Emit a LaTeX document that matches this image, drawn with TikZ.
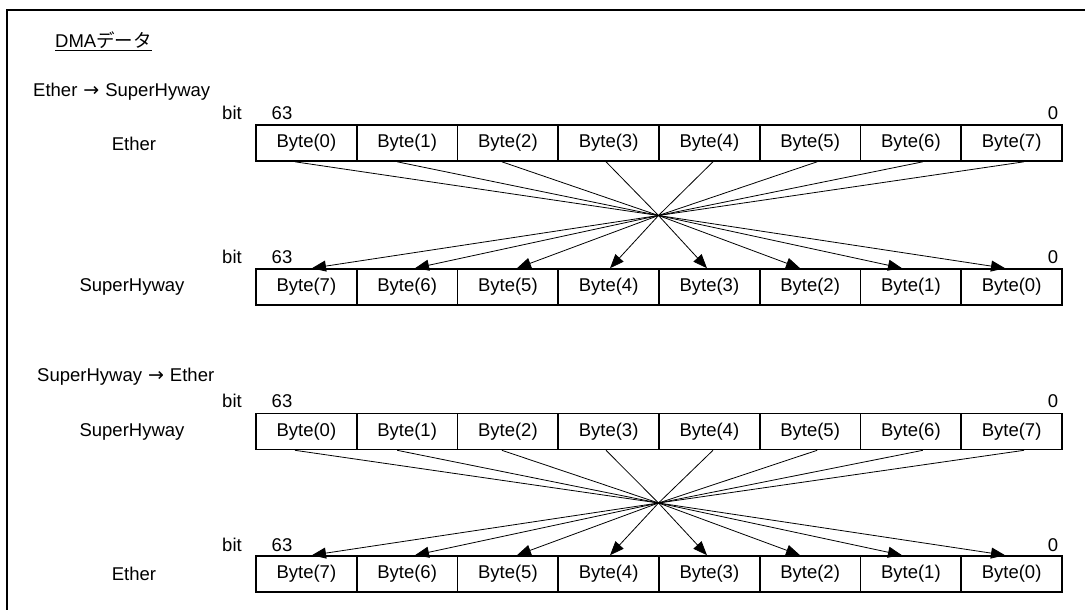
\documentclass[tikz,border=0pt]{standalone}
\usepackage{fontspec}
\setmainfont{Liberation Sans}
\newfontfamily\jpfont{Noto Sans CJK JP}
\newfontfamily\symfont{DejaVu Sans}
\usetikzlibrary{arrows.meta,calc}
\begin{document}
\begin{tikzpicture}[x=1pt,y=-1pt,font=\fontsize{18.5}{21}\selectfont,
  bytebox/.style={draw,line width=1.6pt,minimum width=100.75pt,minimum height=36pt,inner sep=0pt},
  lbl/.style={inner sep=0pt},
  conn/.style={line width=0.8pt},
  arr/.style={line width=0.8pt,-{Triangle[length=14pt,width=11pt]}},
  frameline/.style={line width=2pt}]
\useasboundingbox (0,0) rectangle (1085,610);
% frame
\coordinate (f1) at (6.7,610);
\coordinate (f2) at (6.7,10);
\coordinate (f3) at (1085,10);
\draw[frameline] (f1) -- (f2) -- (f3);
% title
\node[lbl,anchor=base west] (title) at (55,48) {\underline{DMA{\jpfont データ}}};
\node[lbl,anchor=west] (h1) at (33,92) {Ether\hspace{6pt}{\symfont\fontsize{19}{21}\selectfont →}\hspace{6pt}SuperHyway};
\node[lbl,anchor=west] (h2) at (37,377) {SuperHyway\hspace{6pt}{\symfont\fontsize{19}{21}\selectfont →}\hspace{6pt}Ether};
% row labels
\node[lbl] (n1) at (134,143.5) {Ether};
\node[lbl] (n2) at (132,287) {SuperHyway};
\node[lbl] (n3) at (132,431.5) {SuperHyway};
\node[lbl] (n4) at (134,574) {Ether};
% bit labels
\foreach \y/\k in {113/1,257/2,401/3,545/4}{
  \node[lbl] (bit\k) at (232,\y) {bit};
  \node[lbl] (hi\k) at (282,\y) {63};
  \node[lbl] (lo\k) at (1053,\y) {0};
}
% boxes
\foreach \i in {0,...,7}{
  \pgfmathtruncatemacro\j{7-\i}
  \node[bytebox] (a\i) at ({256+100.75*(\i+0.5)},143) {Byte(\i)};
  \node[bytebox] (b\i) at ({256+100.75*(\i+0.5)},287) {Byte(\j)};
  \node[bytebox] (c\i) at ({256+100.75*(\i+0.5)},431.5) {Byte(\i)};
  \node[bytebox] (d\i) at ({256+100.75*(\i+0.5)},574) {Byte(\j)};
}
\coordinate (x1) at (658.5,215.5);
\coordinate (x2) at (658.5,503);
\foreach \i/\s/\t in {0/-11.4/5.6,1/-10/7.9,2/-6/9.1,3/-2.6/1.4,4/3.6/-2.4,5/7/-10.1,6/12/-8.9,7/12.4/-6.6}{
  \draw[conn] ($(a\i.south)+(\s,0)$) -- (x1);
  \draw[arr] (x1) -- ($(b\i.north)+(\t,0)$);
  \draw[conn] ($(c\i.south)+(\s,0)$) -- (x2);
  \draw[arr] (x2) -- ($(d\i.north)+(\t,0)$);
}
\end{tikzpicture}
\end{document}
